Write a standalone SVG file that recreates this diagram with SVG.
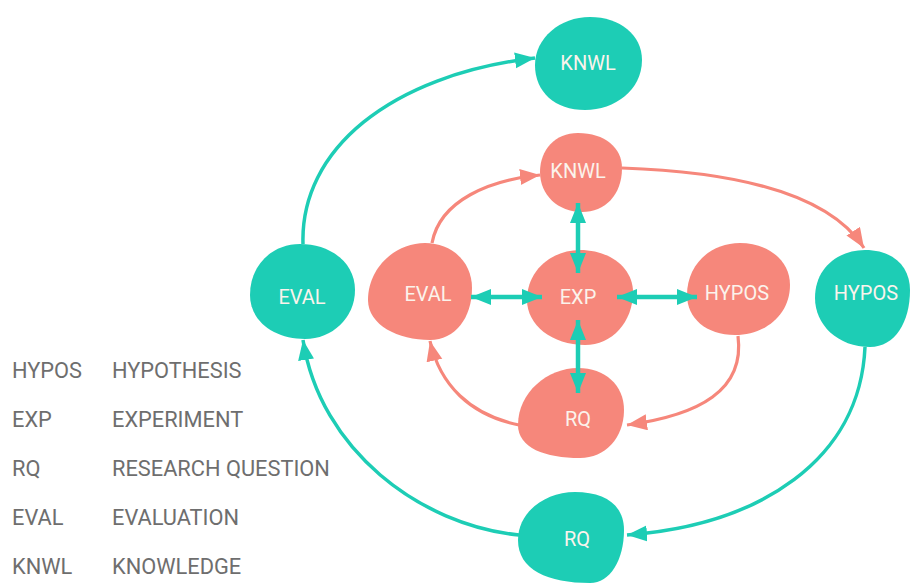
<svg xmlns="http://www.w3.org/2000/svg" width="910" height="584" viewBox="0 0 910 584">
<defs>
<style>
.teal{fill:#1DCDB5}
.pink{fill:#F6877B}
.lbl{font-family:Roboto,"Liberation Sans",sans-serif;font-size:20px;fill:#FBF3EC;text-anchor:middle;dominant-baseline:central}
.leg{font-family:Roboto,"Liberation Sans",sans-serif;font-size:21.8px;fill:#6E6E6E}
.ct{fill:none;stroke:#1DCDB5;stroke-width:3.5}
.cp{fill:none;stroke:#F6877B;stroke-width:3.2}
.dt{fill:none;stroke:#1DCDB5;stroke-width:4.5}
</style>
<marker id="ta" markerUnits="userSpaceOnUse" markerWidth="22" markerHeight="18" refX="20" refY="8" orient="auto-start-reverse"><path d="M0,0 L20,8 L0,16 Z" fill="#1DCDB5"/></marker>
<marker id="pa" markerUnits="userSpaceOnUse" markerWidth="22" markerHeight="18" refX="20" refY="8" orient="auto"><path d="M0,0 L20,8 L0,16 Z" fill="#F6877B"/></marker>
</defs>
<rect width="910" height="584" fill="#FFFFFF"/>
<g id="knwl-outer"><path class="teal" d="M590,17 C620,17 642,35 642,60 C642,90 615,110 585,110 C555,110 535,92 535,65 C535,38 560,17 590,17 Z"/><text class="lbl" x="588" y="63">KNWL</text></g>
<g id="knwl-inner"><path class="pink" d="M578,133 C605,133 622,148 622,168 C622,195 605,212 582,212 C558,212 540,195 540,172 C540,150 555,133 578,133 Z"/><text class="lbl" x="578" y="171">KNWL</text></g>
<g id="eval-outer"><path class="teal" d="M300,244 C330,244 355,262 355,290 C355,318 332,339 305,339 C275,339 250,322 250,295 C250,265 272,244 300,244 Z"/><text class="lbl" x="302" y="297">EVAL</text></g>
<g id="eval-inner"><path class="pink" d="M425,243 C452,243 472,262 472,288 C472,318 455,340 430,340 C398,340 368,325 368,300 C368,268 395,243 425,243 Z"/><text class="lbl" x="428" y="294">EVAL</text></g>
<g id="exp"><path class="pink" d="M580,250 C610,250 633,268 633,292 C633,322 612,345 585,345 C552,345 527,325 527,300 C527,270 552,250 580,250 Z"/><text class="lbl" x="578" y="297">EXP</text></g>
<g id="hypos-inner"><path class="pink" d="M740,243 C768,243 790,260 790,285 C790,315 765,335 735,335 C706,335 687,318 687,295 C687,265 710,243 740,243 Z"/><text class="lbl" x="737" y="293">HYPOS</text></g>
<g id="hypos-outer"><path class="teal" d="M865,250 C895,250 910,268 910,290 C910,322 895,347 870,347 C838,347 815,325 815,298 C815,268 838,250 865,250 Z"/><text class="lbl" x="866" y="293">HYPOS</text></g>
<g id="rq-inner"><path class="pink" d="M578,368 C605,368 624,385 624,410 C624,438 605,458 580,458 C545,458 518,448 518,425 C518,392 548,368 578,368 Z"/><text class="lbl" x="578" y="419">RQ</text></g>
<g id="rq-outer"><path class="teal" d="M575,492 C605,492 624,505 624,530 C624,560 610,583 590,583 C548,583 518,570 518,540 C518,512 545,492 575,492 Z"/><text class="lbl" x="577" y="539">RQ</text></g>
<g id="connectors">
<path class="ct" d="M303,244 C300,150 390,75 535,58" marker-end="url(#ta)"/>
<path class="ct" d="M519,535 C420,525 320,450 303,340" marker-end="url(#ta)"/>
<path class="ct" d="M865,347 C860,460 760,525 627,535" marker-end="url(#ta)"/>
<path class="cp" d="M622,168 C740,172 830,195 864,248" marker-end="url(#pa)"/>
<path class="cp" d="M432,243 C440,200 490,180 540,175" marker-end="url(#pa)"/>
<path class="cp" d="M519,425 C470,415 440,385 430,341" marker-end="url(#pa)"/>
<path class="cp" d="M738,336 C745,390 700,415 627,425" marker-end="url(#pa)"/>
<path class="dt" d="M578,203 L578,273" marker-start="url(#ta)" marker-end="url(#ta)"/>
<path class="dt" d="M578,320 L578,393" marker-start="url(#ta)" marker-end="url(#ta)"/>
<path class="dt" d="M471,297 L542,297" marker-start="url(#ta)" marker-end="url(#ta)"/>
<path class="dt" d="M617,297 L697,297" marker-start="url(#ta)" marker-end="url(#ta)"/>
</g>
<g id="legend">
<text class="leg" x="12" y="378">HYPOS</text><text class="leg" x="112" y="378">HYPOTHESIS</text>
<text class="leg" x="12" y="427">EXP</text><text class="leg" x="112" y="427">EXPERIMENT</text>
<text class="leg" x="12" y="476">RQ</text><text class="leg" x="112" y="476">RESEARCH QUESTION</text>
<text class="leg" x="12" y="525">EVAL</text><text class="leg" x="112" y="525">EVALUATION</text>
<text class="leg" x="12" y="574">KNWL</text><text class="leg" x="112" y="574">KNOWLEDGE</text>
</g>
</svg>
